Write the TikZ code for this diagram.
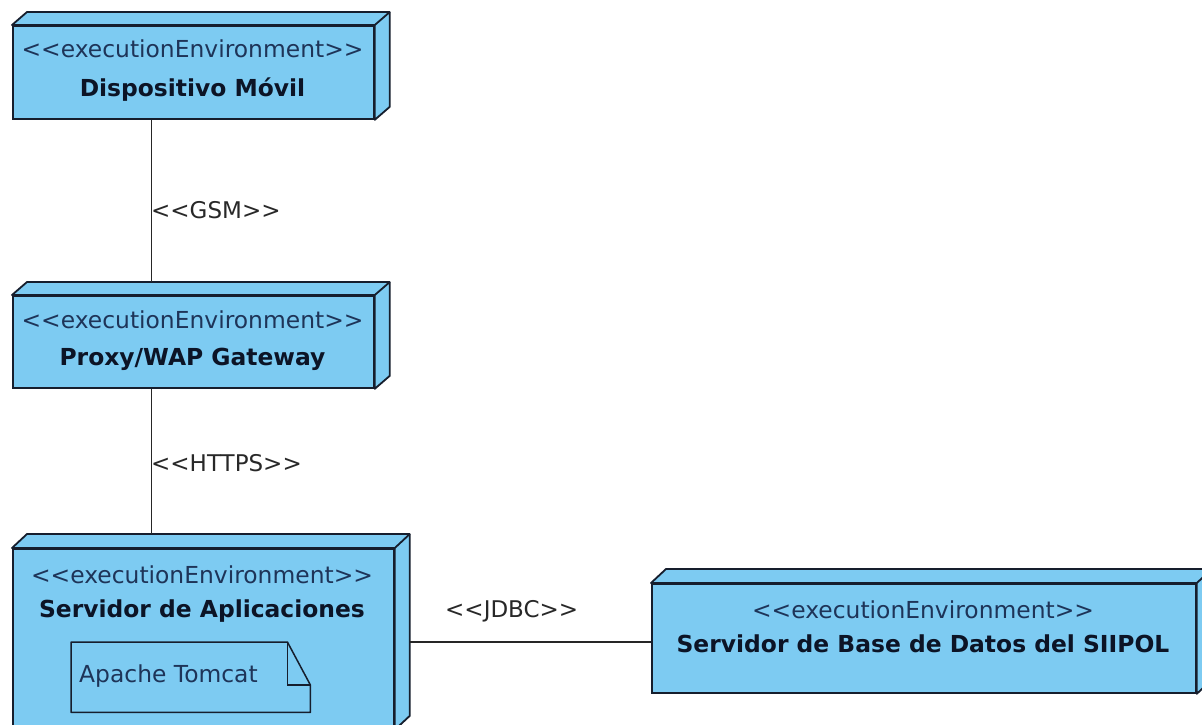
\documentclass[tikz,border=0pt]{standalone}
\usepackage{fontspec}
\setmainfont{DejaVu Sans}
\usetikzlibrary{calc}
\definecolor{nodeblue}{RGB}{125,203,242}
\definecolor{edgecol}{RGB}{22,30,45}
\definecolor{stereo}{RGB}{30,52,88}
\definecolor{titlecol}{RGB}{12,20,38}
\definecolor{lblcol}{RGB}{40,40,40}
\tikzset{
  front/.style={draw=edgecol, fill=nodeblue, line width=1.8pt, anchor=north west, inner sep=0pt},
  face/.style={draw=edgecol, fill=nodeblue, line width=1.8pt, line join=round},
  stype/.style={text=stereo, font=\fontsize{23.4}{27}\selectfont, anchor=base, inner sep=0pt},
  title/.style={text=titlecol, font=\bfseries\fontsize{23.4}{27}\selectfont, anchor=base, inner sep=0pt},
  conn/.style={draw=black!85, line width=1.4pt},
  clabel/.style={text=lblcol, font=\fontsize{23}{26}\selectfont, anchor=base west, inner sep=0pt},
}
\newcommand\topside[3]{% node, dx, dy
  \path[face] (#1.north west) -- ([shift={(#2pt,#3pt)}]#1.north west) -- ([shift={(#2pt,#3pt)}]#1.north east)
     -- ([shift={(#2pt,#3pt)}]#1.south east) -- (#1.south east) -- (#1.north east) -- cycle;
  \draw[edgecol, line width=1.8pt, line join=round] (#1.north east) -- ([shift={(#2pt,#3pt)}]#1.north east);
}
\begin{document}
\begin{tikzpicture}[x=1pt,y=-1pt]
\useasboundingbox (0,0) rectangle (1202,725);
\clip (0,0) rectangle (1202,725);

% Dispositivo Movil
\node[front, minimum width=361pt, minimum height=93pt] (dm) at (12,25) {};
\topside{dm}{15}{13}
\node[stype] (dms) at (192.5,58) {<{}<executionEnvironment>{}>};
\node[title] (dmt) at (192.5,96) {Dispositivo Móvil};

% Proxy/WAP Gateway
\node[front, minimum width=361pt, minimum height=92pt] (pw) at (12,295) {};
\topside{pw}{15}{13}
\node[stype] (pws) at (192.5,328) {<{}<executionEnvironment>{}>};
\node[title] (pwt) at (192.5,365) {Proxy/WAP Gateway};

% Servidor de Aplicaciones
\node[front, minimum width=381pt, minimum height=180pt] (as) at (12,548) {};
\topside{as}{15}{14}
\node[stype] (ass) at (202,583) {<{}<executionEnvironment>{}>};
\node[title] (ast) at (202,617) {Servidor de Aplicaciones};
\node[inner sep=0pt, minimum width=239pt, minimum height=70pt, anchor=north west] (tc) at (71,642) {};
\path[face, line width=1.5pt] (tc.north west) -- ([xshift=-23pt]tc.north east) -- ([yshift=-43pt]tc.north east)
   -- (tc.south east) -- (tc.south west) -- cycle;
\draw[edgecol, line width=1.5pt] ([xshift=-23pt]tc.north east) -- ([xshift=-23pt,yshift=-43pt]tc.north east) -- ([yshift=-43pt]tc.north east);
\node[text=stereo, font=\fontsize{23.4}{27}\selectfont, anchor=base west, inner sep=0pt] (tct) at (79,682) {Apache Tomcat};

% Servidor de Base de Datos
\node[front, minimum width=544pt, minimum height=109pt] (db) at (651,583) {};
\topside{db}{15}{14}
\node[stype] (dbs) at (923,618) {<{}<executionEnvironment>{}>};
\node[title] (dbt) at (923,652) {Servidor de Base de Datos del SIIPOL};

% connectors
\draw[conn] ([xshift=-42pt]dm.south) -- ([xshift=-42pt,yshift=13pt]pw.north);
\draw[conn] ([xshift=-42pt]pw.south) -- ([xshift=-52pt,yshift=14pt]as.north);
\coordinate (jd) at (0,642);
\draw[conn] ([xshift=15pt]as.east |- jd) -- (db.west |- jd);

\node[clabel] (gsm) at (151,218) {<{}<GSM>{}>};
\node[clabel] (https) at (151,471) {<{}<HTTPS>{}>};
\node[clabel] (jdbc) at (445,617) {<{}<JDBC>{}>};
\end{tikzpicture}
\end{document}
